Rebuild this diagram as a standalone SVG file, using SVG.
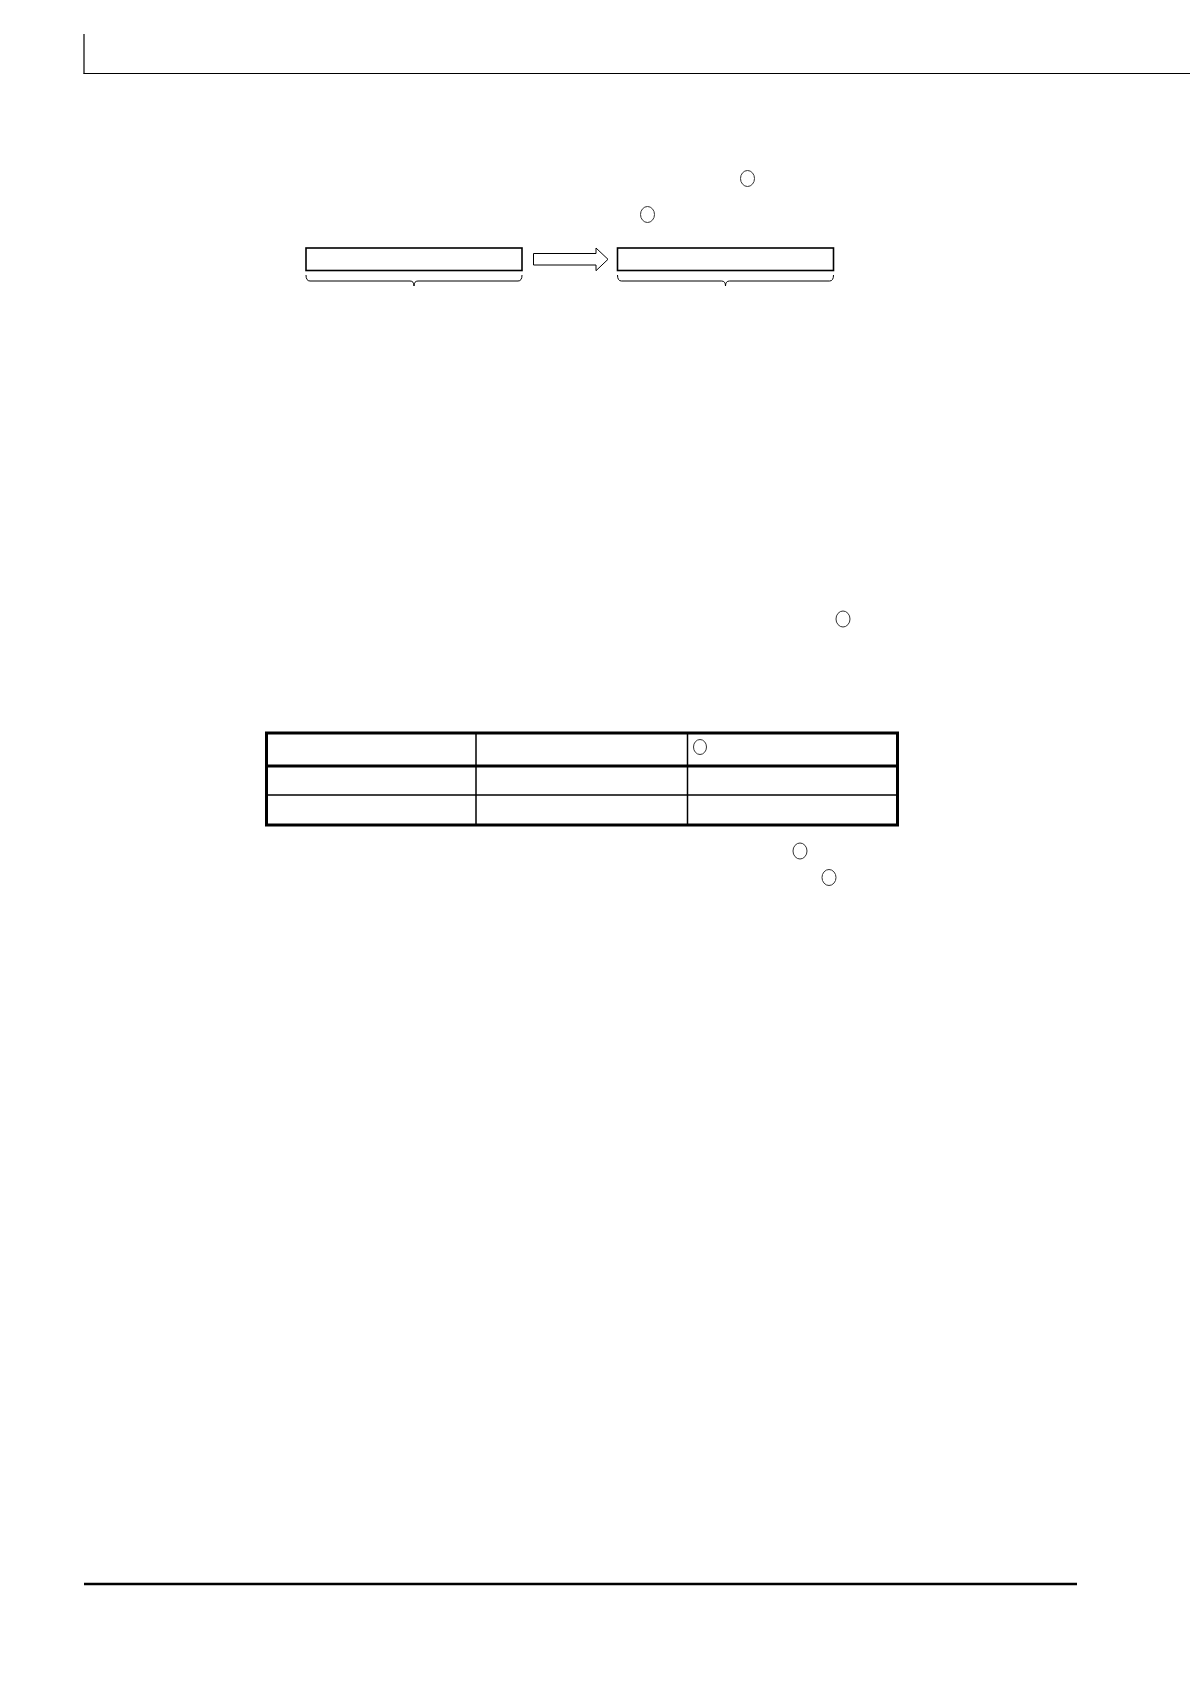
<svg xmlns="http://www.w3.org/2000/svg" width="1190" height="1684" viewBox="0 0 1190 1684">
<style>
.ln{stroke:#000;fill:none}
.box{stroke:#000;stroke-width:1.6;fill:#fff}
.cir{stroke:#333;stroke-width:1;fill:none}
</style>
<rect width="1190" height="1684" fill="#fff"/>
<g id="frame">
<line class="ln" x1="84" y1="34" x2="84" y2="73.5" stroke-width="1.2"/>
<line class="ln" x1="83.4" y1="73.5" x2="1190" y2="73.5" stroke-width="1.2"/>
<line class="ln" x1="84" y1="1584" x2="1077" y2="1584" stroke-width="2.5"/>
</g>
<g id="marks">
<ellipse class="cir" cx="747.5" cy="178.5" rx="7" ry="8"/>
<ellipse class="cir" cx="647.5" cy="214.5" rx="7" ry="8"/>
<ellipse class="cir" cx="843" cy="619" rx="7" ry="8"/>
<ellipse class="cir" cx="800" cy="851" rx="7" ry="8"/>
<ellipse class="cir" cx="829" cy="877.5" rx="7" ry="8"/>
</g>
<g id="box-left"><rect class="box" x="306" y="248" width="216" height="22.5"/></g>
<g id="box-right"><rect class="box" x="617.5" y="248" width="216" height="22.5"/></g>
<g id="connectors">
<path class="ln" stroke-width="1" fill="#fff" d="M533.5,253.5 H596 V248 L608,259.3 L596,270.7 V265 H533.5 Z"/>
<path class="ln" stroke-width="1" d="M306,275 Q306,281 310,281 H410 Q414,281 414,286 Q414,281 418,281 H518 Q522,281 522,275"/>
<path class="ln" stroke-width="1" d="M617.5,275 Q617.5,281 621.5,281 H721.5 Q725.5,281 725.5,286 Q725.5,281 729.5,281 H829.5 Q833.5,281 833.5,275"/>
</g>
<g id="table">
<rect x="266.5" y="733" width="631" height="92" fill="none" stroke="#000" stroke-width="3"/>
<line class="ln" x1="266.5" y1="766" x2="897.5" y2="766" stroke-width="3"/>
<line class="ln" x1="266.5" y1="795" x2="897.5" y2="795" stroke-width="1.5"/>
<line class="ln" x1="476" y1="733" x2="476" y2="825" stroke-width="1.5"/>
<line class="ln" x1="687.5" y1="733" x2="687.5" y2="825" stroke-width="1.5"/>
<ellipse class="cir" cx="700" cy="747" rx="6.5" ry="7.5"/>
</g>
</svg>
